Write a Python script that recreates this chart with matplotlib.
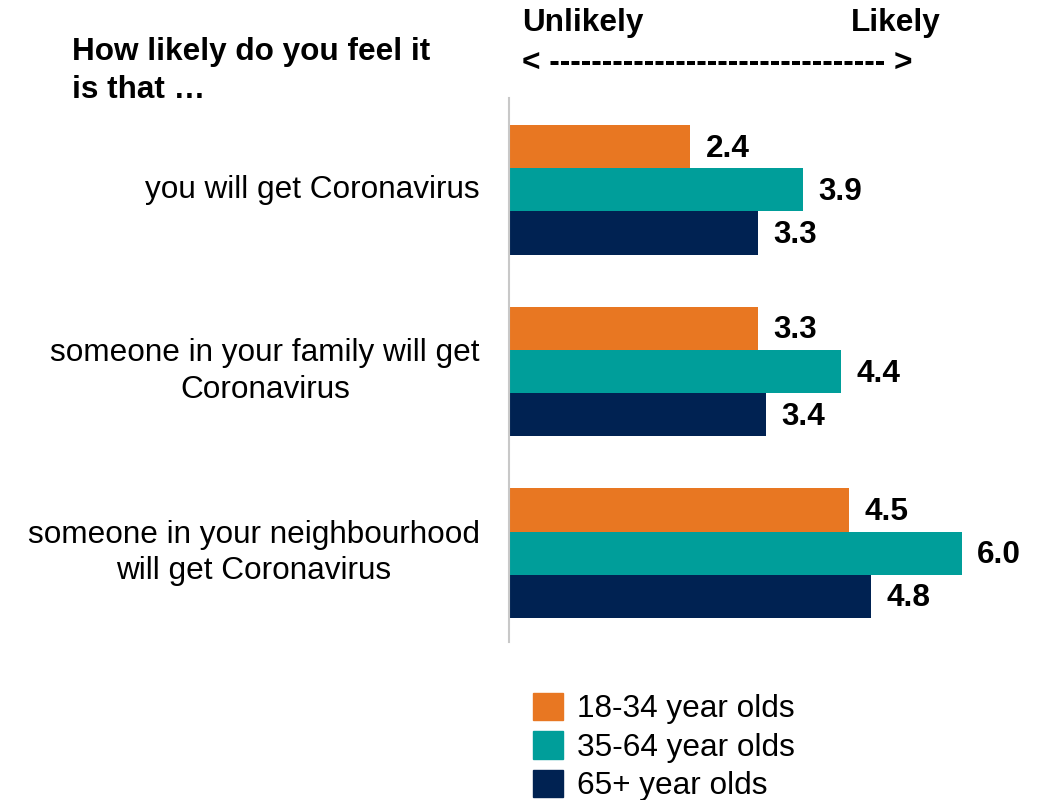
import matplotlib.pyplot as plt
from matplotlib.patches import Patch

plt.rcParams['font.family'] = ['Liberation Sans', 'DejaVu Sans']

statements = ["you will get Coronavirus",
              "someone in your family will get\nCoronavirus",
              "someone in your neighbourhood\nwill get Coronavirus"]
age_groups = ["18-34 year olds", "35-64 year olds", "65+ year olds"]
scores_18_34 = [2.4, 3.3, 4.5]
scores_35_64 = [3.9, 4.4, 6.0]
scores_65_plus = [3.3, 3.4, 4.8]
colors = ["#E87722", "#009E9A", "#002252"]

FS = 22.7

fig = plt.figure(figsize=(10.38, 8), dpi=100)
ax = fig.add_axes([509 / 1038, 1 - 642 / 800, (1030 - 509) / 1038, (642 - 98) / 800])

bar_h = 0.238
offsets = [-bar_h, 0, bar_h]
series = [scores_18_34, scores_35_64, scores_65_plus]
for vals, off, col, lab in zip(series, offsets, colors, age_groups):
    ypos = [i + off for i in range(len(statements))]
    ax.barh(ypos, vals, height=bar_h, color=col, label=lab)
    for y, v in zip(ypos, vals):
        ax.annotate(f"{v:.1f}", (v, y), xytext=(11, -1.5), textcoords="offset points",
                    ha="left", va="center", fontsize=FS, fontweight="bold")

ax.set_xlim(0, (1030 - 509) / 75.5)
ax.set_ylim(2.489, -0.505)
ax.set_xticks([])
ax.set_yticks([])
for s in ["top", "right", "bottom"]:
    ax.spines[s].set_visible(False)
ax.spines["left"].set_color("#C8C8C8")
ax.spines["left"].set_linewidth(1.5)

# category labels, right aligned next to the axis
for i, txt in enumerate(statements):
    fig.text(480 / 1038, 1 - (190 + 181.5 * i) / 800, txt, ha="right", va="center",
             multialignment="center", fontsize=FS, linespacing=1.3)

# header
fig.text(72 / 1038, 1 - 71 / 800, "How likely do you feel it\nis that \u2026", ha="left",
         va="center", fontsize=FS, fontweight="bold", linespacing=1.35)
fig.text(522 / 1038, 1 - 23 / 800, "Unlikely", ha="left", va="center",
         fontsize=FS, fontweight="bold")
fig.text(941 / 1038, 1 - 23 / 800, "Likely", ha="right", va="center",
         fontsize=FS, fontweight="bold")
fig.text(522 / 1038, 1 - 63 / 800, "< " + "-" * 32 + " >", ha="left", va="center",
         fontsize=FS, fontweight="bold")

handles = [Patch(color=c, label=l) for c, l in zip(colors, age_groups)]
fig.legend(handles=handles, loc="upper left", bbox_to_anchor=(533 / 1038, 1 - 693 / 800),
           frameon=False, fontsize=FS, handlelength=0.95, handleheight=0.95,
           handletextpad=0.45, labelspacing=0.22, borderpad=0, borderaxespad=0)

fig.savefig("out.png", dpi=100)
